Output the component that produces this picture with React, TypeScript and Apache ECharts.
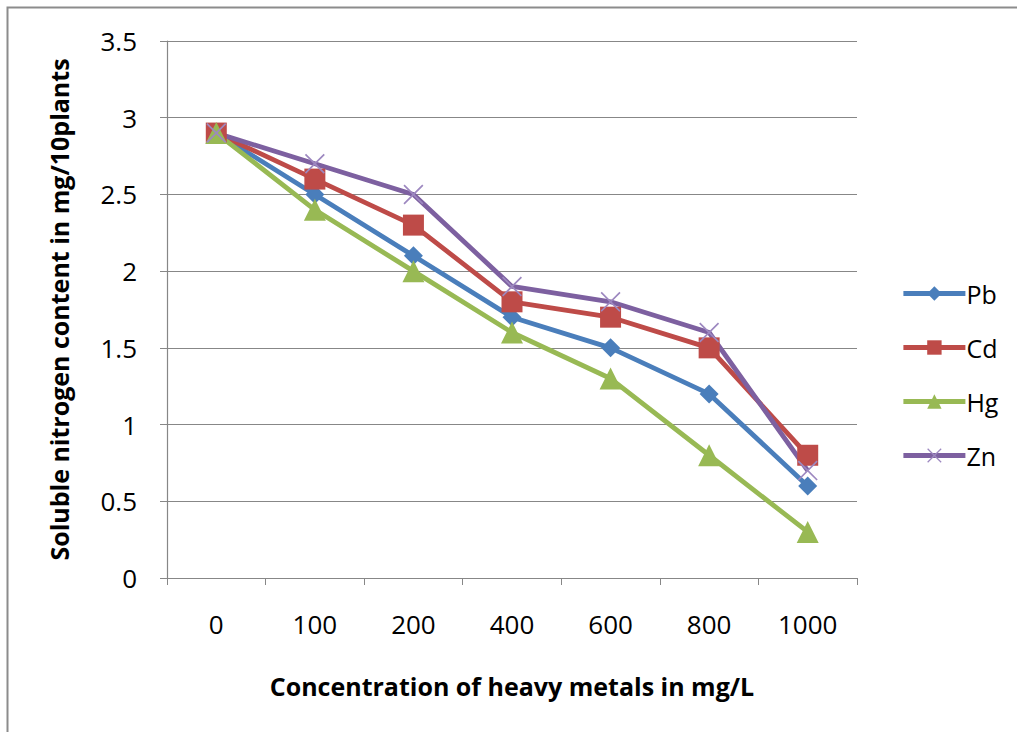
import React, { useEffect, useRef } from "react";
import * as echarts from "echarts";

const categories = ["0", "100", "200", "400", "600", "800", "1000"];
const pb = [2.9, 2.5, 2.1, 1.7, 1.5, 1.2, 0.6];
const cd = [2.9, 2.6, 2.3, 1.8, 1.7, 1.5, 0.8];
const hg = [2.9, 2.4, 2.0, 1.6, 1.3, 0.8, 0.3];
const zn = [2.9, 2.7, 2.5, 1.9, 1.8, 1.6, 0.7];

const FONT = "'Open Sans', Lato, sans-serif";
const X_PATH = "path://M0,0.6L0.6,0L10,9.4L9.4,10Z M9.4,0L10,0.6L0.6,10L0,9.4Z";

export default function App() {
  const ref = useRef<HTMLDivElement>(null);
  useEffect(() => {
    if (!ref.current) return;
    const chart = echarts.init(ref.current, null, { renderer: "svg" });
    const mk = (name: string, data: number[], color: string, symbol: string, size: number, symColor?: string) => ({
      name,
      type: "line",
      data,
      symbol,
      symbolSize: size,
      lineStyle: { color, width: 4.8 },
      itemStyle: { color: symColor || color },
      z: 3,
    });
    chart.setOption({
      animation: false,
      backgroundColor: "#ffffff",
      textStyle: { fontFamily: FONT },
      graphic: [
        {
          type: "rect",
          shape: { x: 7.5, y: 7.5, width: 1030, height: 750 },
          style: { fill: "none", stroke: "#8c8c8c", lineWidth: 2 },
          z: 0,
        },
      ],
      grid: { left: 167, right: 160, top: 41, bottom: 154, containLabel: false },
      legend: {
        orient: "vertical",
        left: 896,
        top: 276,
        itemWidth: 62,
        itemHeight: 18,
        itemGap: 29,
        lineStyle: { width: 4.8 },
        textStyle: { fontSize: 25, color: "#000", fontFamily: FONT, padding: [0, 0, 0, -4] },
        data: ["Pb", "Cd", "Hg", "Zn"],
      },
      xAxis: {
        type: "category",
        data: categories,
        boundaryGap: true,
        name: "Concentration of heavy metals in mg/L",
        nameLocation: "middle",
        nameGap: 95,
        nameTextStyle: { fontSize: 25, fontWeight: "bold", color: "#000", fontFamily: FONT },
        axisLine: { lineStyle: { color: "#878787", width: 1.2 } },
        axisTick: { show: true, length: 7, alignWithLabel: false, lineStyle: { color: "#878787" } },
        axisLabel: { fontSize: 26, color: "#000", margin: 33, fontFamily: FONT },
        splitLine: { show: false },
      },
      yAxis: {
        type: "value",
        min: 0,
        max: 3.5,
        interval: 0.5,
        name: "Soluble nitrogen content in mg/10plants",
        nameLocation: "middle",
        nameGap: 96,
        nameTextStyle: { fontSize: 25, fontWeight: "bold", color: "#000", fontFamily: FONT },
        axisLine: { show: true, lineStyle: { color: "#878787", width: 1.2 } },
        axisTick: { show: true, length: 7, lineStyle: { color: "#878787" } },
        axisLabel: { fontSize: 26, color: "#000", margin: 30, fontFamily: FONT },
        splitLine: { show: true, lineStyle: { color: "#878787", width: 1.2 } },
      },
      series: [
        mk("Pb", pb, "#4A7EBB", "diamond", 19),
        mk("Cd", cd, "#BE4B48", "rect", 21),
        mk("Hg", hg, "#98B954", "triangle", 22),
        mk("Zn", zn, "#7D60A0", X_PATH, 20, "#9D88C0"),
      ],
    });
    return () => chart.dispose();
  }, []);
  return <div ref={ref} style={{ position: "absolute", left: 0, top: 0, width: 1017, height: 732 }} />;
}
